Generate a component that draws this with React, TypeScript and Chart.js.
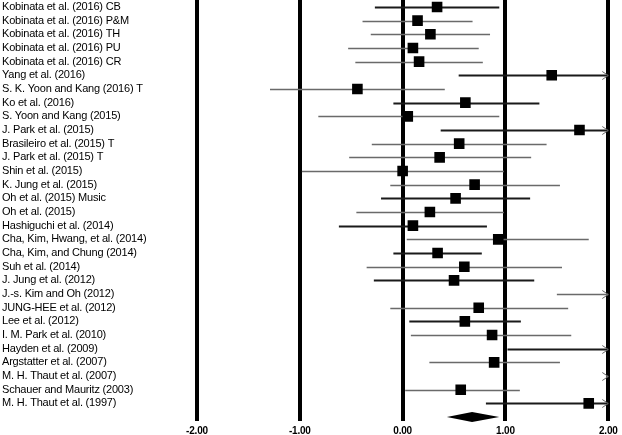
import React, { useEffect, useRef } from "react";
import { Chart, registerables } from "chart.js";

Chart.register(...registerables);

const studies: string[] = [
  "Kobinata et al. (2016) CB",
  "Kobinata et al. (2016) P&M",
  "Kobinata et al. (2016) TH",
  "Kobinata et al. (2016) PU",
  "Kobinata et al. (2016) CR",
  "Yang et al. (2016)",
  "S. K. Yoon and Kang (2016) T",
  "Ko et al. (2016)",
  "S. Yoon and Kang (2015)",
  "J. Park et al. (2015)",
  "Brasileiro et al. (2015) T",
  "J. Park et al. (2015) T",
  "Shin et al. (2015)",
  "K. Jung et al. (2015)",
  "Oh et al. (2015) Music",
  "Oh et al. (2015)",
  "Hashiguchi et al. (2014)",
  "Cha, Kim, Hwang, et al. (2014)",
  "Cha, Kim, and Chung (2014)",
  "Suh et al. (2014)",
  "J. Jung et al. (2012)",
  "J.-s. Kim and Oh (2012)",
  "JUNG-HEE et al. (2012)",
  "Lee et al. (2012)",
  "I. M. Park et al. (2010)",
  "Hayden et al. (2009)",
  "Argstatter et al. (2007)",
  "M. H. Thaut et al. (2007)",
  "Schauer and Mauritz (2003)",
  "M. H. Thaut et al. (1997)",
];

const effect: number[] = [
  0.335, 0.145, 0.27, 0.1, 0.16, 1.45, -0.44, 0.61, 0.05, 1.72,
  0.55, 0.36, 0.0, 0.7, 0.515, 0.265, 0.1, 0.93, 0.34, 0.6,
  0.5, 2.5, 0.74, 0.605, 0.87, 2.5, 0.89, 3.0, 0.565, 1.81,
];

const lower: number[] = [
  -0.27, -0.39, -0.31, -0.53, -0.46, 0.545, -1.29, -0.09, -0.82, 0.37,
  -0.3, -0.52, -0.98, -0.12, -0.21, -0.45, -0.62, 0.04, -0.09, -0.35,
  -0.28, 1.5, -0.12, 0.065, 0.08, 1.02, 0.26, 1.98, 0.025, 0.81,
];

const upper: number[] = [
  0.94, 0.68, 0.85, 0.74, 0.78, 2.36, 0.41, 1.33, 0.94, 3.07,
  1.4, 1.25, 0.985, 1.53, 1.24, 0.985, 0.82, 1.81, 0.77, 1.55,
  1.28, 3.5, 1.61, 1.15, 1.64, 4.0, 1.53, 4.0, 1.14, 2.81,
];

const pooled: number[] = [0.43, 0.675, 0.94];

const xTicks: number[] = [-2, -1, 0, 1, 2];

// style only: which CI lines are drawn dark/thick
const darkLine: boolean[] = [
  true, false, false, false, false, true, false, true, false, true,
  false, false, false, false, true, false, true, false, true, false,
  true, false, false, true, false, true, false, false, false, true,
];

const X_MIN = -2;
const X_MAX = 2;

const forestPlugin = {
  id: "forest",
  beforeDraw(chart: any) {
    try {
      chart.ctx.letterSpacing = "-0.2px";
    } catch (e) {}
  },
  beforeDatasetsDraw(chart: any) {
    const { ctx, scales } = chart;
    const xs = scales.x;
    const ys = scales.y;
    ctx.save();
    for (let i = 0; i < studies.length; i++) {
      const y = Math.round(ys.getPixelForValue(i + 1)) + 0.5;
      const lo = Math.max(lower[i], X_MIN);
      const hi = Math.min(upper[i], X_MAX);
      const x1 = xs.getPixelForValue(lo);
      const x2 = xs.getPixelForValue(hi);
      ctx.beginPath();
      ctx.strokeStyle = darkLine[i] ? "#1a1a1a" : "#6a6a6a";
      ctx.lineWidth = darkLine[i] ? 2 : 1.4;
      ctx.moveTo(x1, y);
      ctx.lineTo(x2, y);
      ctx.stroke();
      if (upper[i] > X_MAX) {
        ctx.beginPath();
        ctx.strokeStyle = "#6a6a6a";
        ctx.lineWidth = 1;
        ctx.moveTo(x2 - 6, y - 4);
        ctx.lineTo(x2, y);
        ctx.lineTo(x2 - 6, y + 4);
        ctx.stroke();
      }
    }
    // pooled diamond
    const yd = ys.getPixelForValue(studies.length + 1);
    const xl = xs.getPixelForValue(pooled[0]);
    const xc = xs.getPixelForValue(pooled[1]);
    const xr = xs.getPixelForValue(pooled[2]);
    ctx.beginPath();
    ctx.fillStyle = "#000";
    ctx.moveTo(xl, yd);
    ctx.lineTo(xc, yd - 5);
    ctx.lineTo(xr, yd);
    ctx.lineTo(xc, yd + 5);
    ctx.closePath();
    ctx.fill();
    ctx.restore();
  },
};

export default function App() {
  const ref = useRef<HTMLCanvasElement | null>(null);
  useEffect(() => {
    if (!ref.current) return;
    const chart = new Chart(ref.current, {
      type: "scatter",
      data: {
        datasets: [
          {
            data: effect.map((v, i) => ({ x: v, y: i + 1 })),
            pointStyle: "rect",
            pointRadius: 7.5,
            pointHoverRadius: 7.5,
            backgroundColor: "#000",
            borderColor: "#000",
            borderWidth: 0,
          },
        ],
      },
      options: {
        animation: false,
        responsive: false,
        layout: { autoPadding: false, padding: { left: 2, right: 11, top: 0, bottom: 0 } },
        plugins: { legend: { display: false }, tooltip: { enabled: false } },
        scales: {
          x: {
            type: "linear",
            min: X_MIN,
            max: X_MAX,
            afterBuildTicks: (scale: any) => {
              scale.ticks = xTicks.map((v) => ({ value: v }));
            },
            afterFit: (scale: any) => {
              scale.height = 14;
            },
            ticks: {
              callback: (v: any) => Number(v).toFixed(2),
              color: "#000",
              font: { family: "Liberation Sans, Arial", size: 10, weight: "bold" },
              padding: 4,
              maxRotation: 0,
            },
            grid: {
              color: "#000",
              lineWidth: 4,
              drawTicks: false,
              tickLength: 0,
            },
            border: { display: false },
          },
          y: {
            type: "linear",
            reverse: true,
            min: 0.49,
            max: 31.29,
            afterBuildTicks: (scale: any) => {
              scale.ticks = studies.map((_, i) => ({ value: i + 1 }));
            },
            afterFit: (scale: any) => {
              scale.width = 195;
              scale.paddingTop = 0;
              scale.paddingBottom = 0;
            },
            ticks: {
              callback: (v: any) => studies[Math.round(Number(v)) - 1] ?? "",
              crossAlign: "far",
              color: "#000",
              font: { family: "Liberation Sans, Arial", size: 11 },
              padding: 0,
              autoSkip: false,
            },
            grid: { display: false },
            border: { display: false },
          },
        },
      },
      plugins: [forestPlugin],
    } as any);
    return () => chart.destroy();
  }, []);
  return (
    <div style={{ position: "fixed", left: 0, top: 0, width: 622, height: 435, background: "#fff" }}>
      <canvas ref={ref} width={622} height={435} style={{ display: "block" }} />
    </div>
  );
}
